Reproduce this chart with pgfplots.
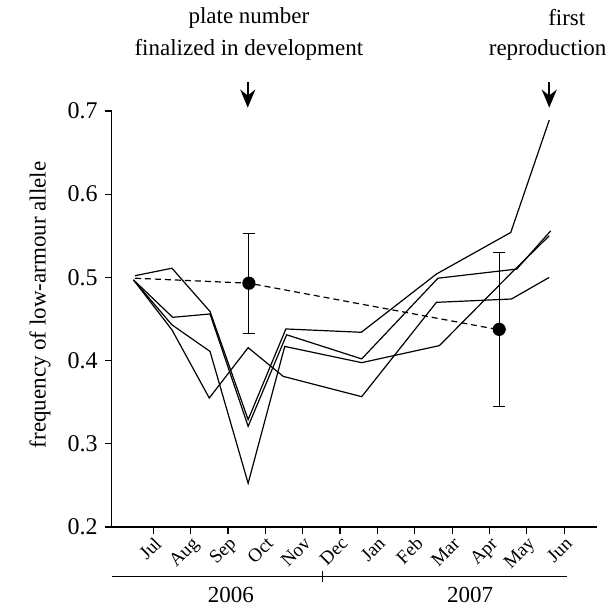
\documentclass[border=0pt]{standalone}
\usepackage{pgfplots}
\pgfplotsset{compat=1.18}
\usepackage{fontspec}
\setmainfont{Liberation Serif}
\usetikzlibrary{arrows.meta}

\begin{document}
\begin{tikzpicture}
\begin{axis}[
    scale only axis,
    width=242.65pt, height=208pt,
    xmin=-0.11, xmax=12.88,
    ymin=0.2, ymax=0.7,
    clip=false,
    axis x line*=bottom,
    axis y line*=left,
    axis line style={-, line width=0.6pt},
    tick style={line width=0.6pt, black},
    tick align=outside,
    major tick length=3.5pt,
    xtick={1,...,12},
    xticklabels={Jul,Aug,Sep,Oct,Nov,Dec,Jan,Feb,Mar,Apr,May,Jun},
    xticklabel style={rotate=45, anchor=north east, inner sep=0.5pt,
        font=\fontsize{9.5}{10}\selectfont},
    ytick={0.2,0.3,...,0.7},
    yticklabel style={font=\fontsize{12}{13}\selectfont,
        /pgf/number format/.cd, fixed, fixed zerofill, precision=1},
    /pgf/number format/assume math mode=true,
    ylabel={frequency of low-armour allele},
    ylabel style={at={(axis description cs:-0.148,0.534)}, anchor=center,
        font=\fontsize{11.5}{13}\selectfont},
    every axis plot/.append style={line width=0.6pt, black},
]
% four lines
\addplot[mark=none] coordinates {
    (0.51,0.502) (1.50,0.511) (2.52,0.459) (3.54,0.329) (4.55,0.438)
    (6.57,0.434) (8.58,0.504) (10.57,0.554) (11.60,0.689)};
\addplot[mark=none] coordinates {
    (0.47,0.497) (1.52,0.452) (2.52,0.456) (3.54,0.321) (4.57,0.431)
    (6.58,0.402) (8.62,0.499) (10.73,0.510) (11.64,0.556)};
\addplot[mark=none] coordinates {
    (0.47,0.497) (1.50,0.443) (2.52,0.411) (3.54,0.2525) (4.52,0.417)
    (6.58,0.3975) (8.66,0.418) (10.60,0.506) (11.60,0.550)};
\addplot[mark=none] coordinates {
    (0.47,0.497) (1.50,0.437) (2.50,0.355) (3.54,0.4155) (4.48,0.381)
    (6.58,0.3566) (8.58,0.470) (10.59,0.474) (11.60,0.500)};
% dashed mean line
\addplot[mark=none, dash pattern=on 3pt off 2pt] coordinates {
    (0.51,0.499) (3.56,0.493) (10.26,0.437)};
\addplot[only marks, mark=*, mark size=3pt,
    error bars/.cd, y dir=both, y explicit,
    error bar style={line width=0.6pt},
    error mark options={rotate=90, mark size=3pt, line width=0.6pt}]
    coordinates {(3.56,0.493) +- (0,0.060) (10.26,0.4375) +- (0,0.0925)};

% annotations
\node[font=\fontsize{11.5}{13}\selectfont] at (axis cs:3.56,0.812) {plate number};
\node[font=\fontsize{11.5}{13}\selectfont] at (axis cs:3.56,0.773) {finalized in development};
\node[font=\fontsize{11.5}{13}\selectfont] at (axis cs:12.07,0.812) {first};
\node[font=\fontsize{11.5}{13}\selectfont, anchor=east, inner xsep=0pt] at (axis cs:13.14,0.773) {reproduction};
\draw[line width=1.2pt, -{Stealth[length=9pt,width=7.5pt]}] (axis cs:3.53,0.735) -- (axis cs:3.53,0.704);
\draw[line width=1.2pt, -{Stealth[length=9pt,width=7.5pt]}] (axis cs:11.60,0.735) -- (axis cs:11.60,0.704);

% year bar
\draw[line width=0.6pt] (axis cs:-0.10,0.1403) -- (axis cs:12.07,0.1403);
\draw[line width=0.6pt] (axis cs:5.54,0.1335) -- (axis cs:5.54,0.1475);
\node[font=\fontsize{11.5}{13}\selectfont] at (axis cs:3.08,0.118) {2006};
\node[font=\fontsize{11.5}{13}\selectfont] at (axis cs:9.48,0.118) {2007};

\coordinate (bl) at (axis cs:-3.102,0.1026);
\coordinate (tr) at (axis cs:13.17,0.8334);
\end{axis}
\pgfresetboundingbox
\path[use as bounding box] (bl) rectangle (tr);
\end{tikzpicture}
\end{document}
